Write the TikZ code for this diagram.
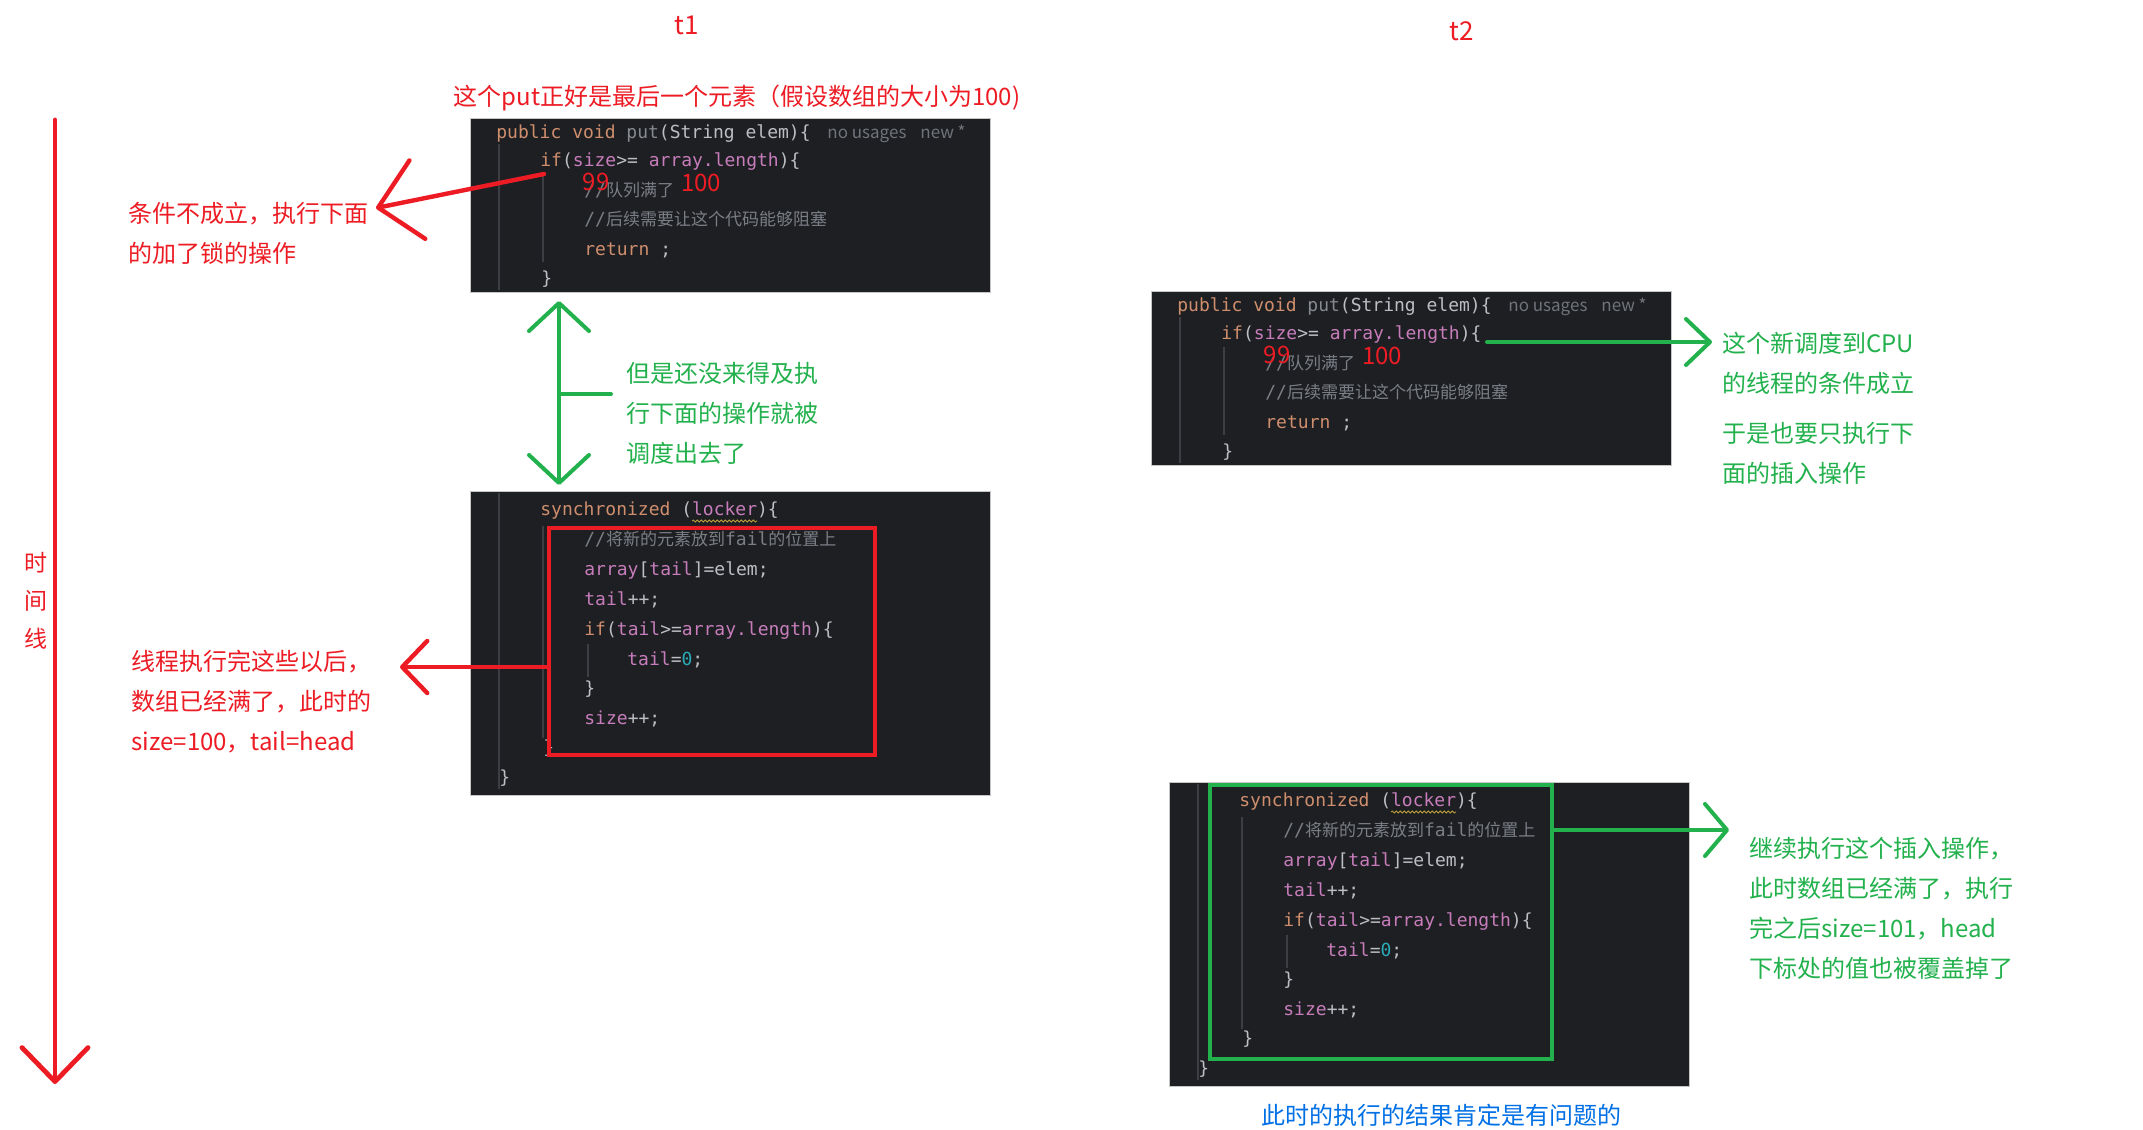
\documentclass[tikz,border=0pt]{standalone}
\usepackage{fontspec}
\setmainfont{Noto Sans CJK SC}
\setmonofont{DejaVu Sans Mono}
\usetikzlibrary{arrows.meta,decorations.pathmorphing}

\definecolor{inkred}{RGB}{237,28,36}
\definecolor{inkgreen}{RGB}{34,177,76}
\definecolor{inkblue}{RGB}{0,112,230}
\definecolor{codebg}{RGB}{30,31,34}
\definecolor{guidec}{RGB}{60,62,67}
\definecolor{kwc}{RGB}{207,142,109}
\definecolor{fnc}{RGB}{134,138,145}
\definecolor{plc}{RGB}{188,190,196}
\definecolor{fldc}{RGB}{199,125,187}
\definecolor{numc}{RGB}{42,172,184}
\definecolor{cmtc}{RGB}{122,126,133}
\definecolor{hintc}{RGB}{111,115,122}
\definecolor{wavyc}{RGB}{190,160,60}

\newcommand{\ckw}[1]{\textcolor{kwc}{#1}}
\newcommand{\cfn}[1]{\textcolor{fnc}{#1}}
\newcommand{\cpl}[1]{\textcolor{plc}{#1}}
\newcommand{\cfld}[1]{\textcolor{fldc}{#1}}
\newcommand{\cnum}[1]{\textcolor{numc}{#1}}
\newcommand{\ccmt}[1]{\textcolor{cmtc}{#1}}
\newcommand{\zh}[1]{{\rmfamily\fontsize{8.5}{9}\selectfont #1}}

\tikzset{
  codebox/.style={anchor=north west, fill=codebg, draw=gray!45, line width=0.6pt, inner sep=0},
  code/.style={anchor=west, inner sep=0, font=\ttfamily\fontsize{9}{9}\selectfont, text height=7pt, text depth=2pt},
  hint/.style={anchor=west, inner sep=0, text=hintc, font=\fontsize{8.5}{9}\selectfont, text height=7pt, text depth=2pt},
  guide/.style={draw=guidec, line width=0.6pt},
  wavy/.style={draw=wavyc, line width=0.4pt, decorate, decoration={snake, amplitude=0.5pt, segment length=2pt}},
  redtext/.style={text=inkred, inner sep=0, align=left, font=\fontsize{12}{20}\selectfont},
  greentext/.style={text=inkgreen, inner sep=0, align=left, font=\fontsize{12}{20}\selectfont},
  redline/.style={draw=inkred, line width=2.2pt, line cap=round},
  greenline/.style={draw=inkgreen, line width=2pt, line cap=round}
}

% the put() method, as shown in the IDE
\newcommand{\putcode}[2]{%
  \begin{scope}[shift={#2}]
    \node[codebox, minimum width=260pt, minimum height=87pt] (#1) at (0,0) {};
    \draw[guide] (29,26) -- (29,172);
    \draw[guide] (73,56) -- (73,144);
    \node[code] (#1a) at (26,15) {\ckw{public void }\cfn{put}\cpl{(String elem)\{}};
    \node[hint] (#1h) at (357,15) {no usages};
    \node[hint] (#1n) at (450,15) {new *};
    \node[code] (#1b) at (70,43) {\ckw{if}\cpl{(}\cfld{size}\cpl{>= }\cfld{array.length}\cpl{)\{}};
    \node[code] (#1c) at (114,73) {\ccmt{//\zh{队列满了}}};
    \node[code] (#1d) at (114,102) {\ccmt{//\zh{后续需要让这个代码能够阻塞}}};
    \node[code] (#1e) at (114,132) {\ckw{return} \cpl{;}};
    \node[code] (#1f) at (71,161) {\cpl{\}}};
    \node[redtext] (#1o) at (126,64) {99};
    \node[redtext] (#1p) at (231,65) {100};
  \end{scope}}

% the synchronized block
\newcommand{\synccode}[2]{%
  \begin{scope}[shift={#2}]
    \node[codebox, minimum width=260pt, minimum height=152pt] (#1) at (0,0) {};
    \draw[guide] (29,2) -- (29,298);
    \draw[guide] (73,35) -- (73,247);
    \draw[guide] (118,153) -- (118,186);
    \node[code] (#1a) at (70,19) {\ckw{synchronized }\cpl{(}\cfld{locker}\cpl{)\{}};
    \draw[wavy] (222,30) -- (287,30);
    \node[code] (#1b) at (114,49) {\ccmt{//\zh{将新的元素放到}fail\zh{的位置上}}};
    \node[code] (#1c) at (114,79) {\cfld{array}\cpl{[}\cfld{tail}\cpl{]=elem;}};
    \node[code] (#1d) at (114,109) {\cfld{tail}\cpl{++;}};
    \node[code] (#1e) at (114,139) {\ckw{if}\cpl{(}\cfld{tail}\cpl{>=}\cfld{array.length}\cpl{)\{}};
    \node[code] (#1f) at (157,169) {\cfld{tail}\cpl{=}\cnum{0}\cpl{;}};
    \node[code] (#1g) at (114,198) {\cpl{\}}};
    \node[code] (#1k) at (114,228) {\cfld{size}\cpl{++;}};
    \node[code] (#1i) at (73,257) {\cpl{\}}};
    \node[code] (#1j) at (29,287) {\cpl{\}}};
  \end{scope}}

\begin{document}
\begin{tikzpicture}[x=0.5pt, y=-0.5pt]
  \useasboundingbox (0,0) rectangle (2143,1130);
  \fill[white] (0,0) rectangle (2143,1130);

  % Thread labels
  \node[text=inkred, font=\fontsize{13}{13}\selectfont] (t1) at (687,25) {t1};
  \node[text=inkred, font=\fontsize{13}{13}\selectfont] (t2) at (1462,31) {t2};

  % Time line
  \coordinate (tstart) at (55,120);
  \coordinate (tend) at (55,1084);
  \draw[redline, line width=2.4pt, -{Straight Barb[length=17pt,width=33pt,round]}] (tstart) -- (tend);
  \node[redtext, align=center, font=\fontsize{11.5}{19}\selectfont] (tline) at (36,601) {时\\间\\线};

  % Thread 1
  \node[redtext] (head) at (737,98) {这个put正好是最后一个元素（假设数组的大小为100)};
  \putcode{put1}{(470,118)}
  \synccode{sync1}{(470,491)}
  \node[draw=inkred, line width=2pt, anchor=north west, minimum width=163pt, minimum height=113.5pt, inner sep=0] (crit1) at (547,526) {};

  % condition fails -> goes on to the lock
  \node[redtext, anchor=west] (cond) at (128,233) {条件不成立，执行下面\\的加了锁的操作};
  \coordinate (condfrom) at (544,174);
  \coordinate (condtip) at (376,208);
  \draw[redline, -{Straight Barb[length=20pt,width=40pt,round]}] (condfrom) -- (condtip);

  % scheduled out between check and lock
  \coordinate (swtop) at (559,301);
  \coordinate (swbot) at (559,485);
  \coordinate (swmid) at (559,394);
  \coordinate (swtick) at (611,394);
  \draw[greenline, {Straight Barb[length=14pt,width=30pt,round]}-{Straight Barb[length=14pt,width=30pt,round]}] (swtop) -- (swbot);
  \draw[greenline] (swmid) -- (swtick);
  \node[greentext, anchor=west] (sw) at (626,413) {但是还没来得及执\\行下面的操作就被\\调度出去了};

  % thread 1 finishes the insert
  \coordinate (donetip) at (400,667);
  \draw[redline, -{Straight Barb[length=12.5pt,width=26pt,round]}] (crit1.west |- donetip) -- (donetip);
  \node[redtext, anchor=west] (done) at (131,702) {线程执行完这些以后，\\数组已经满了，此时的\\size=100，tail=head};

  % Thread 2
  \putcode{put2}{(1151,291)}
  \coordinate (condfrom2) at (1487,342);
  \coordinate (condtip2) at (1712,342);
  \draw[greenline, -{Straight Barb[length=12pt,width=23pt,round]}] (condfrom2) -- (condtip2);
  \node[greentext, anchor=west] (ok2) at (1722,363) {这个新调度到CPU\\的线程的条件成立};
  \node[greentext, anchor=west] (ins2) at (1722,453) {于是也要只执行下\\面的插入操作};

  \synccode{sync2}{(1169,782)}
  \node[draw=inkgreen, line width=2pt, anchor=north west, minimum width=171pt, minimum height=137pt, inner sep=0] (crit2) at (1208,783) {};
  \coordinate (overtip) at (1729,830);
  \draw[greenline, -{Straight Barb[length=11pt,width=26pt,round]}] (crit2.east |- overtip) -- (overtip);
  \node[greentext, anchor=west] (over) at (1749,908) {继续执行这个插入操作，\\此时数组已经满了，执行\\完之后size=101，head\\下标处的值也被覆盖掉了};

  \node[text=inkblue, font=\fontsize{12}{12}\selectfont] (bad) at (1441,1115) {此时的执行的结果肯定是有问题的};
\end{tikzpicture}
\end{document}
